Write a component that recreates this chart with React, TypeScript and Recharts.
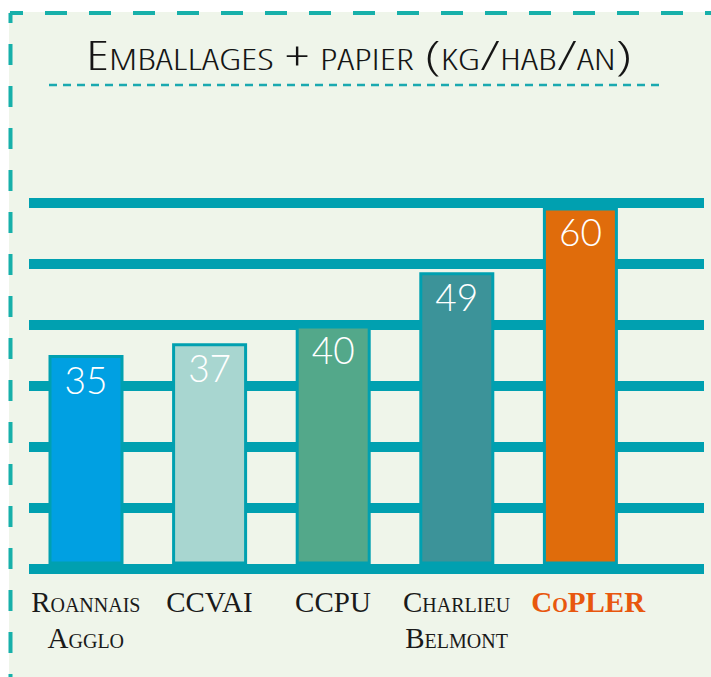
import React from "react";
import { BarChart, Bar, XAxis, YAxis, CartesianGrid, Cell, LabelList } from "recharts";

const categories = ["Roannais Agglo", "CCVAI", "CCPU", "Charlieu Belmont", "CoPLER"];
const values = [35, 37, 40, 49, 60];
const barColors = ["#00a0e2", "#a8d6d0", "#53a88a", "#3c9399", "#e06c0b"];
const gridTicks = [-1, 9.33, 19.67, 30, 40.33, 50.67, 61];

const data = categories.map((name, i) => ({ name, value: values[i] }));

const TEAL = "#00a0b0";
const BORDER = "#17b0aa";

const XTick = (props: any) => {
  const { x, y, payload } = props;
  const label: string = payload.value;
  const highlight = label === "CoPLER";
  const lines = label.split(" ");
  return (
    <text
      x={x}
      y={y + 35}
      textAnchor="middle"
      fontFamily="'Liberation Serif', serif"
      fontSize={29}
      fontWeight={highlight ? 700 : 400}
      fill={highlight ? "#e8570e" : "#1a1a1a"}
      style={{ fontVariant: "small-caps" }}
    >
      {lines.map((l, i) => (
        <tspan key={i} x={highlight ? x + 8 : x} dy={i === 0 ? 0 : 36}>
          {l}
        </tspan>
      ))}
    </text>
  );
};

export default function App() {
  return (
    <div style={{ position: "absolute", left: 0, top: 0, width: 711, height: 677, background: "#fff" }}>
      <div style={{ position: "absolute", left: 9, top: 12, right: 0, bottom: 0, background: "#eff5ea" }} />
      <div style={{ position: "absolute", left: 0, top: 0 }}>
        <BarChart width={711} height={677} data={data} margin={{ top: 203, left: 29, right: 7, bottom: 0 }}>
          <CartesianGrid horizontal vertical={false} stroke={TEAL} strokeWidth={10} />
          <YAxis hide domain={[-1, 61]} ticks={gridTicks} type="number" />
          <XAxis
            dataKey="name"
            height={108}
            axisLine={false}
            tickLine={false}
            padding={{ left: -5, right: 62 }}
            tick={<XTick />}
            interval={0}
          />
          <Bar dataKey="value" barSize={72} stroke={TEAL} strokeWidth={3} isAnimationActive={false}>
            {data.map((d, i) => (
              <Cell key={d.name} fill={barColors[i]} />
            ))}
            <LabelList
              dataKey="value"
              position="insideTop"
              offset={11}
              fill="#ffffff"
              fontSize={37}
              fontFamily="Lato, sans-serif"
              fontWeight={300}
            />
          </Bar>
        </BarChart>
      </div>
      <svg width={711} height={677} style={{ position: "absolute", left: 0, top: 0, pointerEvents: "none" }}>
        <line x1={10} y1={13} x2={711} y2={13} stroke={BORDER} strokeWidth={4} strokeDasharray="22 22" strokeDashoffset={9} />
        <line x1={10.5} y1={13} x2={10.5} y2={677} stroke={BORDER} strokeWidth={4} strokeDasharray="21 21" strokeDashoffset={11} />
        <text
          x={359}
          y={70}
          textAnchor="middle"
          fontFamily="'Open Sans', 'Liberation Sans Narrow', sans-serif"
          fontSize={41}
          fontWeight={300}
          fill="#151515"
          textLength={546}
          lengthAdjust="spacingAndGlyphs"
          style={{ fontVariant: "small-caps", fontStretch: "condensed" }}
        >
          Emballages + papier (kg/hab/an)
        </text>
        <line x1={49} y1={85} x2={664} y2={85} stroke="#1aa9b0" strokeWidth={2.5} strokeDasharray="8 6" />
      </svg>
    </div>
  );
}
